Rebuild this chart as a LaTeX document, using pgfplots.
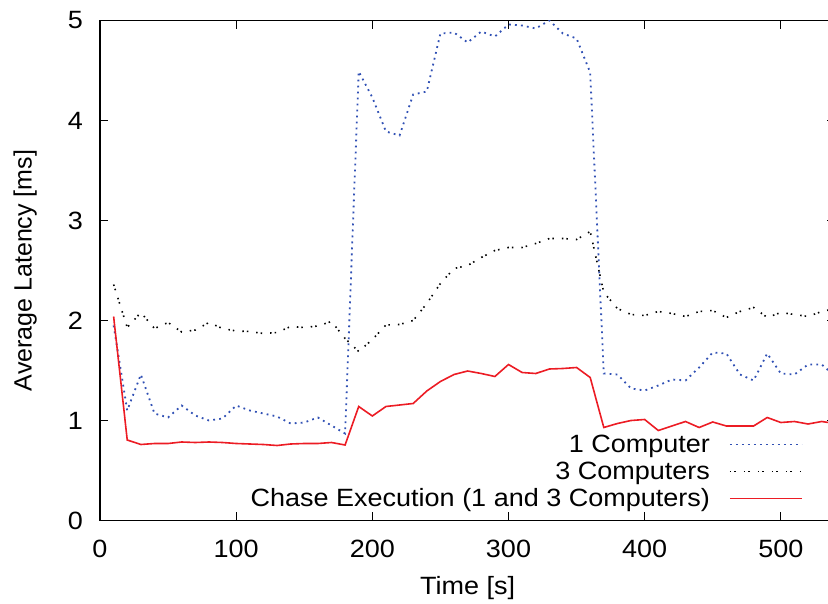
\documentclass[border=0pt]{standalone}
\usepackage{fontspec}
\setmainfont{Liberation Sans}[FakeStretch=1.08]
\newfontfamily\ylabfont{Liberation Sans}
\usepackage{pgfplots}
\pgfplotsset{compat=1.18}
\definecolor{cblue}{RGB}{48,80,180}
\definecolor{cred}{RGB}{236,28,36}
\begin{document}
\begin{tikzpicture}
\useasboundingbox (-100bp,-83.5bp) rectangle (728bp,520.5bp);
\begin{axis}[
  scale only axis, width=735.3bp, height=500bp,
  xmin=0, xmax=540, ymin=0, ymax=5,
  xtick={0,100,...,500}, ytick={0,1,...,5},
  tick align=inside, major tick length=8bp,
  axis line style={line width=1.3bp},
  every tick/.append style={black, line width=1.3bp},
  font=\fontsize{25bp}{30bp}\selectfont,
  /pgf/number format/assume math mode=true,
  xticklabel style={inner sep=0pt, anchor=north, yshift=-19.5bp},
  yticklabel style={inner sep=0pt, anchor=east, xshift=-17bp},
  xlabel={Time [s]},
  xlabel style={at={(axis description cs:0.5,-0.147)}, anchor=base, inner sep=0pt},
  ylabel={\ylabfont Average Latency [ms]},
  ylabel style={at={(axis description cs:-0.0929,0.5)}, anchor=base, inner sep=0pt},
  legend cell align=right,
  legend plot pos=right,
  legend image code/.code={\draw[#1] (0bp,5bp) -- (72bp,5bp);},
  legend style={draw=none, fill=none, at={(axis description cs:0.9557,0.169)}, anchor=north east, inner sep=0pt, outer sep=0pt, column sep=19bp, row sep=0pt, nodes={inner sep=0pt, text height=17bp, text depth=10bp}},
]
\addplot[cblue, line width=1.8bp, dash pattern=on 1.8bp off 4.2bp] coordinates {
(10,1.95)(20,1.10)(30,1.46)(40,1.07)(50,1.03)(60,1.15)(70,1.05)(80,1.00)(90,1.02)(100,1.15)(110,1.10)(120,1.07)(130,1.04)(140,0.97)(150,0.98)(160,1.03)(170,0.95)(180,0.87)(190,4.49)(200,4.23)(210,3.89)(220,3.85)(230,4.26)(240,4.29)(250,4.87)(260,4.88)(270,4.78)(280,4.89)(290,4.84)(300,4.96)(310,4.95)(320,4.92)(330,5.00)(340,4.87)(350,4.82)(360,4.48)(370,1.47)(380,1.46)(390,1.32)(400,1.30)(410,1.35)(420,1.41)(430,1.40)(440,1.53)(450,1.68)(460,1.67)(470,1.46)(480,1.40)(490,1.67)(500,1.47)(510,1.46)(520,1.56)(530,1.56)(540,1.44)
};
\addlegendentry{1 Computer}
\addplot[black, line width=1.6bp, dash pattern=on 1.5bp off 3bp on 1.5bp off 8bp] coordinates {
(10,2.36)(20,1.93)(30,2.08)(40,1.92)(50,1.98)(60,1.885)(70,1.905)(80,1.98)(90,1.92)(100,1.895)(110,1.89)(120,1.87)(130,1.88)(140,1.94)(150,1.93)(160,1.945)(170,1.99)(180,1.82)(190,1.69)(200,1.81)(210,1.955)(220,1.96)(230,2.00)(240,2.17)(250,2.37)(260,2.52)(270,2.55)(280,2.63)(290,2.70)(300,2.73)(310,2.73)(320,2.77)(330,2.82)(340,2.82)(350,2.81)(360,2.89)(370,2.28)(380,2.12)(390,2.06)(400,2.05)(410,2.09)(420,2.07)(430,2.04)(440,2.09)(450,2.10)(460,2.03)(470,2.09)(480,2.13)(490,2.03)(500,2.08)(510,2.06)(520,2.04)(530,2.09)(540,2.12)
};
\addlegendentry{3 Computers}
\addplot[cred, line width=1.6bp] coordinates {
(10,2.04)(20,0.805)(30,0.76)(40,0.77)(50,0.77)(60,0.785)(70,0.78)(80,0.785)(90,0.78)(100,0.77)(110,0.765)(120,0.76)(130,0.75)(140,0.765)(150,0.77)(160,0.77)(170,0.78)(180,0.755)(190,1.14)(200,1.045)(210,1.14)(220,1.155)(230,1.17)(240,1.295)(250,1.39)(260,1.46)(270,1.495)(280,1.47)(290,1.44)(300,1.56)(310,1.48)(320,1.47)(330,1.515)(340,1.52)(350,1.53)(360,1.43)(370,0.93)(380,0.97)(390,1.00)(400,1.01)(410,0.90)(420,0.945)(430,0.99)(440,0.93)(450,0.985)(460,0.945)(470,0.945)(480,0.945)(490,1.03)(500,0.98)(510,0.99)(520,0.965)(530,0.99)(540,0.97)
};
\addlegendentry{Chase Execution (1 and 3 Computers)}
\end{axis}
\end{tikzpicture}
\end{document}
